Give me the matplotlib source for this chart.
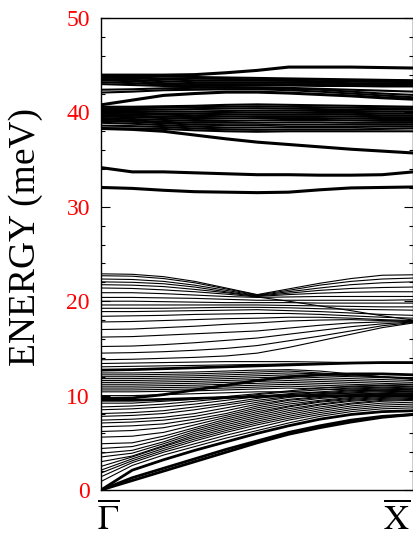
import matplotlib
matplotlib.use('Agg')
import matplotlib.pyplot as plt
import numpy as np

plt.rcParams['font.family'] = ['Liberation Serif', 'DejaVu Serif']
plt.rcParams['mathtext.fontset'] = 'stix'

# k-path sample points between Gamma-bar and X-bar
k_points = np.arange(11)
k_labels = [r'$\overline{\Gamma}$', r'$\overline{\mathrm{X}}$']
y_label = 'ENERGY (meV)'

# ---- isolated thick optical bands above 30 meV ----
high_thick_bands = [
    [43.95, 43.95, 43.95, 44.0, 44.2, 44.45, 44.8, 44.8, 44.8, 44.75, 44.7],
    [40.8, 41.3, 41.8, 42.0, 42.15, 42.15, 42.05, 41.9, 41.75, 41.55, 41.4],
    [38.3, 38.2, 38.0, 37.6, 37.2, 36.85, 36.6, 36.35, 36.1, 35.9, 35.7],
    [34.15, 33.7, 33.7, 33.6, 33.5, 33.4, 33.4, 33.35, 33.35, 33.4, 33.7],
    [32.05, 31.95, 31.75, 31.6, 31.55, 31.5, 31.55, 31.8, 32.0, 32.05, 32.1],
]

# ---- dense optical clusters (38-41 and 42-44 meV) ----
high_bands = [
    [43.9, 43.85, 43.8, 43.75, 43.7, 43.65, 43.6, 43.55, 43.5, 43.45, 43.4],
    [43.8, 43.7, 43.6, 43.6, 43.55, 43.5, 43.5, 43.45, 43.4, 43.4, 43.35],
    [43.7, 43.6, 43.5, 43.4, 43.4, 43.4, 43.35, 43.3, 43.3, 43.25, 43.2],
    [43.55, 43.45, 43.3, 43.2, 43.2, 43.2, 43.2, 43.15, 43.1, 43.1, 43.05],
    [43.4, 43.3, 43.1, 43.0, 43.0, 43.0, 43.0, 43.0, 42.95, 42.9, 42.9],
    [43.2, 43.1, 42.95, 42.85, 42.8, 42.85, 42.85, 42.8, 42.8, 42.75, 42.75],
    [43.0, 42.9, 42.8, 42.7, 42.65, 42.65, 42.6, 42.5, 42.4, 42.3, 42.2],
    [42.4, 42.45, 42.55, 42.6, 42.6, 42.6, 42.5, 42.4, 42.2, 42.0, 41.85],
    [42.1, 42.2, 42.35, 42.4, 42.45, 42.45, 42.35, 42.2, 42.0, 41.8, 41.6],
    [40.6, 40.6, 40.65, 40.7, 40.8, 40.85, 40.8, 40.75, 40.7, 40.65, 40.6],
    [40.45, 40.45, 40.5, 40.55, 40.6, 40.65, 40.6, 40.55, 40.5, 40.45, 40.45],
    [40.3, 40.3, 40.3, 40.35, 40.4, 40.45, 40.4, 40.35, 40.3, 40.3, 40.3],
    [40.15, 40.15, 40.1, 40.1, 40.15, 40.2, 40.2, 40.15, 40.15, 40.1, 40.1],
    [40.0, 39.95, 39.9, 39.9, 39.95, 40.0, 40.0, 39.95, 39.95, 39.9, 39.9],
    [39.85, 39.8, 39.75, 39.7, 39.75, 39.8, 39.8, 39.8, 39.75, 39.7, 39.7],
    [39.7, 39.65, 39.55, 39.5, 39.55, 39.6, 39.6, 39.6, 39.55, 39.5, 39.5],
    [39.55, 39.5, 39.4, 39.3, 39.35, 39.4, 39.4, 39.4, 39.35, 39.3, 39.3],
    [39.4, 39.3, 39.2, 39.1, 39.1, 39.15, 39.2, 39.2, 39.15, 39.1, 39.1],
    [39.25, 39.15, 39.0, 38.9, 38.9, 38.9, 38.95, 38.95, 38.9, 38.9, 38.9],
    [39.1, 39.0, 38.85, 38.7, 38.65, 38.65, 38.7, 38.7, 38.7, 38.7, 38.7],
    [38.9, 38.8, 38.65, 38.5, 38.4, 38.4, 38.45, 38.45, 38.45, 38.5, 38.5],
    [38.6, 38.55, 38.45, 38.3, 38.2, 38.15, 38.2, 38.2, 38.2, 38.25, 38.3],
    [38.3, 38.3, 38.25, 38.1, 38.0, 37.95, 38.0, 38.0, 38.0, 38.0, 38.0],
]

# ---- middle bands 13-23 meV (thin) ----
mid_bands = [
    [22.9, 22.85, 22.6, 22.1, 21.4, 20.7, 21.3, 21.9, 22.4, 22.75, 22.8],
    [22.7, 22.65, 22.4, 21.95, 21.3, 20.65, 21.15, 21.7, 22.1, 22.35, 22.45],
    [22.35, 22.3, 22.1, 21.7, 21.15, 20.6, 21.0, 21.4, 21.75, 21.95, 22.05],
    [22.05, 22.0, 21.85, 21.5, 21.0, 20.55, 20.85, 21.15, 21.35, 21.45, 21.5],
    [21.75, 21.7, 21.55, 21.25, 20.9, 20.5, 20.7, 20.85, 20.95, 21.0, 21.0],
    [21.4, 21.35, 21.2, 21.0, 20.75, 20.45, 20.0, 19.5, 19.0, 18.45, 18.0],
    [20.9, 20.9, 20.8, 20.65, 20.5, 20.4, 20.45, 20.5, 20.5, 20.5, 20.5],
    [20.4, 20.4, 20.35, 20.3, 20.2, 20.1, 20.1, 20.1, 20.1, 20.1, 20.15],
    [20.0, 20.0, 19.95, 19.9, 19.85, 19.85, 19.85, 19.8, 19.8, 19.8, 19.8],
    [19.6, 19.6, 19.6, 19.6, 19.6, 19.6, 19.55, 19.5, 19.45, 19.4, 19.4],
    [19.25, 19.25, 19.25, 19.3, 19.35, 19.35, 19.3, 19.2, 19.15, 19.1, 19.05],
    [18.9, 18.9, 18.95, 19.0, 19.05, 19.1, 19.0, 18.9, 18.75, 18.6, 18.5],
    [18.4, 18.45, 18.5, 18.6, 18.65, 18.7, 18.7, 18.6, 18.45, 18.3, 18.2],
    [17.8, 17.85, 17.95, 18.05, 18.15, 18.2, 18.3, 18.3, 18.2, 18.05, 17.95],
    [17.0, 17.05, 17.2, 17.35, 17.55, 17.7, 17.9, 18.0, 18.05, 17.95, 17.9],
    [16.2, 16.25, 16.4, 16.55, 16.7, 16.85, 17.15, 17.45, 17.7, 17.8, 17.85],
    [15.2, 15.25, 15.4, 15.6, 15.85, 16.1, 16.5, 16.9, 17.3, 17.6, 17.8],
    [14.5, 14.55, 14.65, 14.8, 15.0, 15.3, 15.8, 16.3, 16.85, 17.4, 17.75],
    [13.8, 13.85, 13.95, 14.05, 14.2, 14.5, 15.1, 15.8, 16.5, 17.2, 17.7],
]

# ---- low bands 0-13.5 meV ----
low_bands = [
    [0.9, 2.6, 3.7, 4.6, 5.5, 6.3, 7.1, 7.8, 8.3, 8.6, 8.7],
    [1.4, 2.9, 4.0, 4.9, 5.8, 6.6, 7.4, 8.0, 8.5, 8.8, 8.9],
    [1.8, 3.1, 4.2, 5.2, 6.1, 6.9, 7.6, 8.2, 8.7, 9.0, 9.1],
    [2.1, 3.3, 4.4, 5.4, 6.3, 7.1, 7.8, 8.4, 8.9, 9.2, 9.3],
    [2.5, 3.5, 4.6, 5.6, 6.5, 7.3, 8.0, 8.6, 9.1, 9.4, 9.5],
    [3.0, 3.6, 4.7, 5.8, 6.7, 7.5, 8.2, 8.8, 9.2, 9.5, 9.6],
    [3.5, 3.9, 4.9, 6.0, 6.9, 7.7, 8.4, 9.0, 9.4, 9.6, 9.7],
    [3.9, 4.2, 5.1, 6.2, 7.1, 7.9, 8.6, 9.1, 9.5, 9.7, 9.8],
    [4.4, 4.6, 5.4, 6.4, 7.3, 8.1, 8.8, 9.3, 9.6, 9.8, 9.9],
    [4.9, 5.0, 5.7, 6.6, 7.5, 8.3, 8.9, 9.4, 9.7, 9.9, 10.0],
    [5.6, 5.7, 6.1, 6.9, 7.7, 8.5, 9.1, 9.5, 9.8, 10.0, 10.1],
    [6.2, 6.3, 6.6, 7.2, 7.9, 8.7, 9.3, 9.7, 9.9, 10.1, 10.2],
    [6.7, 6.8, 7.0, 7.5, 8.1, 8.9, 9.5, 9.8, 10.0, 10.2, 10.3],
    [7.1, 7.2, 7.4, 7.8, 8.4, 9.1, 9.6, 9.9, 10.1, 10.3, 10.4],
    [7.4, 7.5, 7.7, 8.1, 8.7, 9.3, 9.8, 10.1, 10.3, 10.4, 10.5],
    [7.8, 7.9, 8.1, 8.5, 9.0, 9.5, 9.9, 10.2, 10.4, 10.5, 10.6],
    [8.1, 8.2, 8.4, 8.8, 9.2, 9.7, 10.1, 10.3, 10.5, 10.6, 10.7],
    [8.5, 8.6, 8.8, 9.1, 9.5, 9.9, 10.2, 10.4, 10.6, 10.7, 10.8],
    [8.8, 8.9, 9.1, 9.4, 9.7, 10.1, 10.4, 10.6, 10.8, 10.9, 11.0],
    [9.2, 9.2, 9.4, 9.6, 9.9, 10.2, 10.5, 10.8, 11.0, 11.1, 11.2],
    [10.0, 10.0, 10.1, 10.2, 10.3, 10.4, 10.4, 10.3, 10.2, 10.2, 10.2],
    [10.4, 10.4, 10.45, 10.5, 10.6, 10.7, 10.8, 10.7, 10.6, 10.5, 10.4],
    [10.6, 10.6, 10.65, 10.7, 10.8, 10.9, 11.0, 10.9, 10.8, 10.7, 10.6],
    [10.8, 10.8, 10.85, 10.9, 11.0, 11.1, 11.2, 11.1, 11.0, 10.9, 10.8],
    [11.0, 11.0, 11.05, 11.1, 11.2, 11.3, 11.4, 11.3, 11.2, 11.1, 11.0],
    [11.2, 11.2, 11.25, 11.3, 11.4, 11.5, 11.6, 11.5, 11.4, 11.3, 11.2],
    [11.4, 11.4, 11.45, 11.5, 11.6, 11.7, 11.8, 11.7, 11.6, 11.5, 11.4],
    [11.6, 11.6, 11.65, 11.7, 11.8, 11.9, 12.0, 11.9, 11.8, 11.7, 11.6],
    [11.8, 11.8, 11.85, 11.9, 12.0, 12.1, 12.2, 12.1, 12.0, 11.9, 11.8],
    [12.0, 12.0, 12.05, 12.1, 12.2, 12.3, 12.4, 12.3, 12.1, 12.0, 11.9],
    [12.2, 12.2, 12.25, 12.3, 12.4, 12.5, 12.6, 12.4, 12.2, 12.0, 11.8],
    [12.4, 12.4, 12.45, 12.5, 12.6, 12.7, 12.75, 12.6, 12.3, 12.0, 11.7],
    [13.05, 13.1, 13.15, 13.2, 13.25, 13.3, 13.35, 13.4, 13.4, 13.45, 13.45],
    [13.4, 13.45, 13.5, 13.55, 13.6, 13.6, 13.6, 13.55, 13.5, 13.45, 13.4],
]

# thick low bands (acoustic + degenerate pairs)
low_thick_bands = [
    [0.0, 1.0, 2.0, 3.0, 4.0, 5.0, 5.9, 6.6, 7.2, 7.7, 8.0],
    [0.0, 1.3, 2.3, 3.3, 4.3, 5.2, 6.1, 6.8, 7.4, 7.8, 8.0],
    [0.0, 2.1, 3.2, 4.2, 5.1, 6.0, 6.8, 7.5, 8.0, 8.3, 8.4],
    [9.5, 9.5, 9.6, 9.7, 9.8, 9.9, 10.0, 10.0, 10.0, 10.0, 10.0],
    [9.7, 9.75, 10.1, 10.6, 11.1, 11.6, 12.0, 12.2, 12.3, 12.3, 12.2],
    [12.7, 12.75, 12.85, 12.95, 13.05, 13.15, 13.25, 13.35, 13.45, 13.5, 13.5],
]

y_major = np.arange(0, 51, 10)
y_minor = np.arange(0, 51, 2)

fig = plt.figure(figsize=(4.14, 5.39), dpi=100)
ax = fig.add_axes([101 / 414, 1 - 490 / 539, (413.5 - 101) / 414, (490 - 18) / 539])

for band in high_thick_bands:
    ax.plot(k_points, band, color='black', lw=2.2)
for band in high_bands:
    ax.plot(k_points, band, color='black', lw=1.5)
for band in mid_bands:
    ax.plot(k_points, band, color='black', lw=0.8)
for band in low_bands:
    ax.plot(k_points, band, color='black', lw=0.8)
for band in low_thick_bands:
    ax.plot(k_points, band, color='black', lw=2.0)

ax.set_xlim(k_points[0], k_points[-1])
ax.set_ylim(0, 50)
ax.set_xticks([])
ax.set_yticks(y_major)
ax.set_yticks(y_minor, minor=True)
ax.tick_params(axis='y', which='both', direction='in', left=True, right=True,
               labelcolor='red', labelsize=17, pad=8)
ax.tick_params(axis='y', which='major', length=6.5, width=0.8)
ax.tick_params(axis='y', which='minor', length=3.2, width=0.8)
for lbl in ax.get_yticklabels():
    lbl.set_fontfamily(['Liberation Serif', 'DejaVu Serif'])
for sp in ax.spines.values():
    sp.set_linewidth(1.0)

ax.text(0.022, -0.026, k_labels[0], transform=ax.transAxes, ha='center', va='top', fontsize=25)
ax.text(0.946, -0.026, k_labels[1], transform=ax.transAxes, ha='center', va='top', fontsize=25)

fig.text(26 / 414, 1 - 237 / 539, y_label, rotation=90, ha='center', va='center',
         fontsize=27, family=['Liberation Serif', 'DejaVu Serif'])

fig.savefig('out.png', dpi=100)
